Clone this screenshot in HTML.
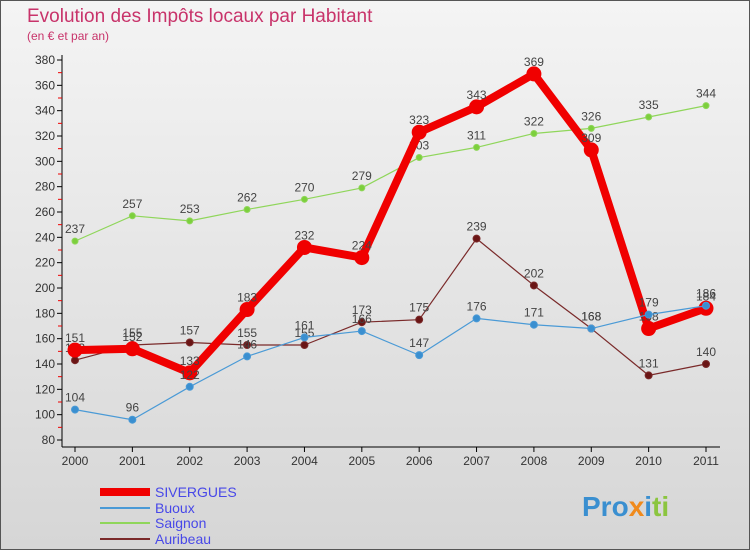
<!DOCTYPE html>
<html><head><meta charset="utf-8"><style>
body{margin:0;width:750px;height:550px;overflow:hidden;font-family:"Liberation Sans",sans-serif}
#wrap{position:absolute;left:0;top:0;width:748px;height:548px;border:1px solid #555;background:linear-gradient(#f4f4f4,#d6d6d6)}
</style></head><body>
<div id="wrap">
<svg id="chart" width="750" height="550" style="position:absolute;left:-1px;top:-1px">
<text x="27" y="22" font-size="19" fill="#c8336a">Evolution des Impôts locaux par Habitant</text>
<text x="27" y="40" font-size="12" fill="#c8336a">(en € et par an)</text>
<g id="axes"></g><g id="series"></g><g id="legend"></g>
<text x="582" y="516" font-size="28" font-weight="bold" fill="#3a8fd0">Pro<tspan fill="#f08a1c">x</tspan><tspan fill="#3a8fd0">i</tspan><tspan fill="#8bc53f">ti</tspan></text>
</svg></div>
<script>
const years=["2000","2001","2002","2003","2004","2005","2006","2007","2008","2009","2010","2011"];
const yTicks=[80,100,120,140,160,180,200,220,240,260,280,300,320,340,360,380];
const sivergues=[151,152,133,183,232,224,323,343,369,309,168,184];
const buoux=[104,96,122,146,161,166,147,176,171,168,179,186];
const saignon=[237,257,253,262,270,279,303,311,322,326,335,344];
const auribeau=[143,155,157,155,155,173,175,239,202,168,131,140];
const NS="http://www.w3.org/2000/svg";
function mk(t,a,p){const e=document.createElementNS(NS,t);for(const k in a)e.setAttribute(k,a[k]);p.appendChild(e);return e;}
const X=i=>75+i*(706-75)/(years.length-1);
const Y=v=>440-(v-80)*380/300;
const ax=document.getElementById('axes');
let l=mk('line',{x1:62,y1:55,x2:62,y2:447,stroke:'#000'},ax);


l=mk('line',{x1:62,y1:447,x2:720,y2:447,stroke:'#000'},ax);


yTicks.forEach(v=>{mk('line',{x1:57,y1:Y(v),x2:62,y2:Y(v),stroke:'#000'},ax);
 if(v<380)mk('line',{x1:58,y1:Y(v+10),x2:62,y2:Y(v+10),stroke:'#e00'},ax);
 const t=mk('text',{x:55,y:Y(v)+4,'font-size':12,'text-anchor':'end',fill:'#333'},ax);t.textContent=v;
 
 });
years.forEach((y,i)=>{mk('line',{x1:X(i),y1:447,x2:X(i),y2:452,stroke:'#000'},ax);
 const t=mk('text',{x:X(i),y:465,'font-size':12,'text-anchor':'middle',fill:'#333'},ax);t.textContent=y;
 
 });
const sg=document.getElementById('series');
function draw(name,data,color,w,r,dot){
 const g=mk('g',{},sg);
 
 
 const p=mk('polyline',{points:data.map((v,i)=>X(i)+','+Y(v)).join(' '),fill:'none',stroke:color,'stroke-width':w,'stroke-linejoin':'round'},g);
 
 
 data.forEach((v,i)=>{const c=mk('circle',{cx:X(i),cy:Y(v),r:r,fill:dot,stroke:color,'stroke-width':1},g);
  
  
  const t=mk('text',{x:X(i),y:Y(v)-8,'font-size':12,'text-anchor':'middle',fill:'#444'},g);t.textContent=v;
  
  });
}
draw('saignon',saignon,'#8fd65a',1.2,3,'#7ccf3c');
draw('auribeau',auribeau,'#7a2a2a',1.2,3.5,'#6a1515');
draw('sivergues',sivergues,'#f00000',8,7,'#f00000');
draw('buoux',buoux,'#4a9ad6',1.2,3.5,'#3a8fd0');
const lg=document.getElementById('legend');
[['SIVERGUES','#f00000',8,492],['Buoux','#4a9ad6',2,508],['Saignon','#8fd65a',2,523],['Auribeau','#7a2a2a',2,539]].forEach(([n,c,w,y])=>{
 const g=mk('g',{},lg);
 
 
 mk('line',{x1:100,y1:y,x2:150,y2:y,stroke:c,'stroke-width':w},g);
 const t=mk('text',{x:155,y:y+5,'font-size':14,fill:'#4848e8'},g);t.textContent=n;});
</script></body></html>
